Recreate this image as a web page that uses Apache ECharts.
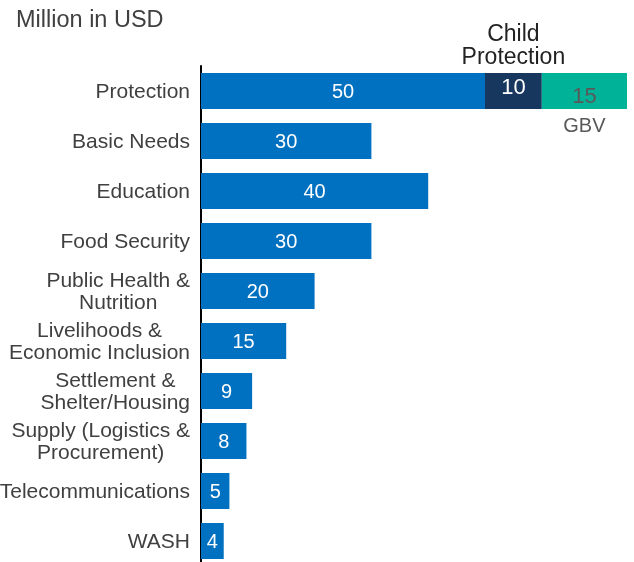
<!DOCTYPE html>
<html>
<head>
<meta charset="utf-8">
<script src="https://cdn.jsdelivr.net/npm/echarts@6/dist/echarts.min.js"></script>
<style>
  html, body { margin: 0; padding: 0; background: #fff; }
  #chart { width: 634px; height: 562px; }
</style>
</head>
<body>
<div id="chart"></div>
<script>
// Funding by sector, million USD
const categories = [
  'Protection',
  'Basic Needs',
  'Education',
  'Food Security',
  'Public Health &\nNutrition',
  'Livelihoods &\nEconomic Inclusion',
  'Settlement &\nShelter/Housing',
  'Supply (Logistics &\nProcurement)',
  'Telecommunications',
  'WASH'
];
const sectorValues = [50, 30, 40, 30, 20, 15, 9, 8, 5, 4];
// Protection sub-areas stacked after the general Protection amount
const childProtectionValues = [10, null, null, null, null, null, null, null, null, null];
const gbvValues = [15, null, null, null, null, null, null, null, null, null];

const FONT = '"Liberation Sans", Arial, sans-serif';

const chart = echarts.init(document.getElementById('chart'), null, { renderer: 'canvas' });

chart.setOption({
  animation: false,
  backgroundColor: '#ffffff',
  textStyle: { fontFamily: FONT },
  title: {
    text: 'Million in USD',
    left: 11,
    top: 4,
    textStyle: { fontFamily: FONT, fontSize: 23.5, fontWeight: 'normal', color: '#404040' }
  },
  grid: { left: 201, top: 66, width: 426, height: 500, containLabel: false, outerBoundsMode: 'none' },
  xAxis: {
    type: 'value',
    min: 0,
    max: 75,
    show: false
  },
  yAxis: {
    type: 'category',
    inverse: true,
    data: categories,
    axisLine: { show: true, lineStyle: { color: '#000000', width: 2 } },
    axisTick: { show: false },
    splitLine: { show: false },
    axisLabel: {
      margin: 11,
      align: 'right',
      fontFamily: FONT,
      fontSize: 21,
      lineHeight: 22,
      color: '#404040',
      formatter: v => v.split('\n').map(l => '{c|' + l + '}').join('\n'),
      rich: {
        c: { align: 'center', fontFamily: FONT, fontSize: 21, lineHeight: 22, padding: [2, 0, 0, 0], color: '#404040' }
      }
    }
  },
  series: [
    {
      name: 'Sector',
      type: 'bar',
      stack: 'total',
      barWidth: 36,
      data: sectorValues,
      itemStyle: { color: '#0070C0' },
      label: {
        show: true,
        position: 'inside',
        offset: [0, 1.5],
        color: '#ffffff',
        fontFamily: FONT,
        fontSize: 20
      }
    },
    {
      name: 'Child Protection',
      type: 'bar',
      stack: 'total',
      barWidth: 36,
      data: childProtectionValues,
      itemStyle: { color: '#17375E' },
      label: {
        show: true,
        position: 'inside',
        offset: [0, -26],
        formatter: p => '{t|Child}\n{t|Protection}\n{v|' + p.value + '}',
        rich: {
          t: { align: 'center', fontFamily: FONT, fontSize: 23, lineHeight: 23, color: '#222222' },
          v: { align: 'center', fontFamily: FONT, fontSize: 22, lineHeight: 38, color: '#ffffff' }
        }
      }
    },
    {
      name: 'GBV',
      type: 'bar',
      stack: 'total',
      barWidth: 36,
      data: gbvValues,
      itemStyle: { color: '#00B398' },
      label: {
        show: true,
        position: 'inside',
        offset: [0, 20.5],
        formatter: p => '{v|' + p.value + '}\n{g|' + p.seriesName + '}',
        rich: {
          v: { align: 'center', fontFamily: FONT, fontSize: 22, lineHeight: 30, color: '#595959' },
          g: { align: 'center', fontFamily: FONT, fontSize: 20, lineHeight: 30, color: '#595959' }
        }
      }
    }
  ]
});
</script>
</body>
</html>
